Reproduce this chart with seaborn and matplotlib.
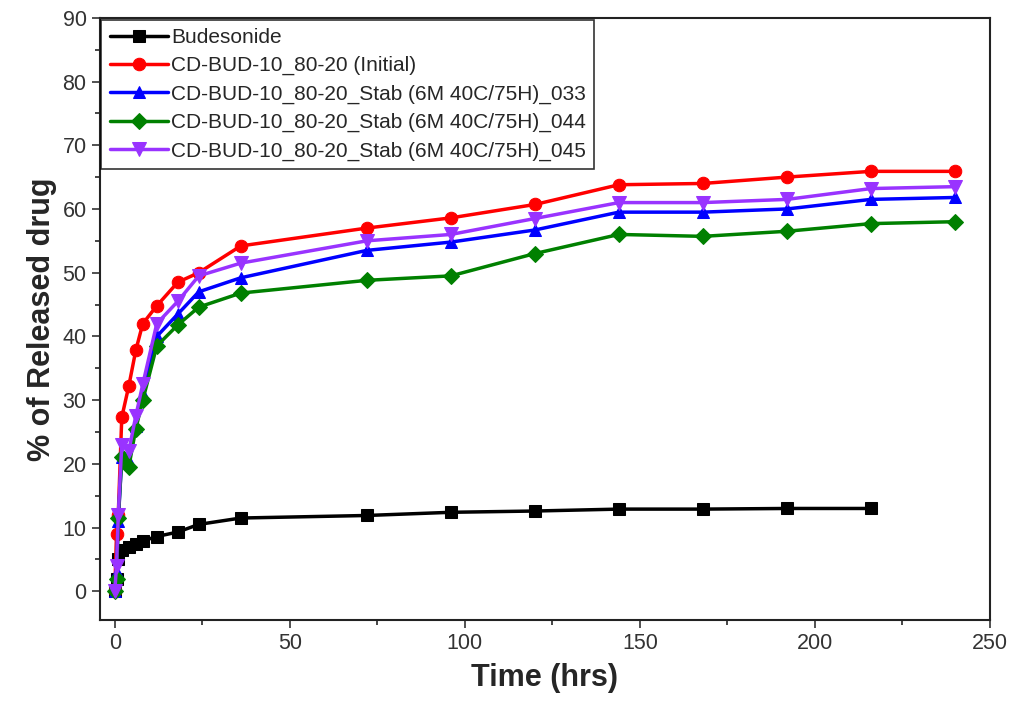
import matplotlib
matplotlib.use("Agg")
import matplotlib.pyplot as plt
import seaborn as sns
import pandas as pd
from matplotlib.ticker import MultipleLocator

time_all = [0, 0.5, 1, 2, 4, 6, 8, 12, 18, 24, 36, 72, 96, 120, 144, 168, 192, 216, 240]
time_bud = time_all[:-1]

budesonide = [0, 2, 5, 6.5, 7.0, 7.5, 7.9, 8.6, 9.3, 10.5, 11.5, 11.9, 12.4, 12.6, 12.9, 12.9, 13.0, 13.0]
initial = [0, 9, 12, 27.3, 32.2, 37.8, 42.0, 44.8, 48.5, 50.0, 54.2, 57.0, 58.6, 60.7, 63.8, 64.0, 65.0, 65.9, 65.9]
stab_033 = [0, 3, 11, 21.0, 20.5, 26.0, 31.0, 40.0, 43.5, 47.0, 49.2, 53.5, 54.8, 56.7, 59.5, 59.5, 60.0, 61.5, 61.8]
stab_044 = [0, 2, 11.5, 21.0, 19.5, 25.5, 30.0, 38.5, 41.8, 44.6, 46.8, 48.8, 49.5, 53.0, 56.0, 55.7, 56.5, 57.7, 58.0]
stab_045 = [0, 4, 12, 23.0, 22.0, 27.5, 32.5, 42.0, 45.5, 49.5, 51.5, 55.0, 56.0, 58.5, 61.0, 61.0, 61.5, 63.2, 63.5]

labels = ["Budesonide", "CD-BUD-10_80-20 (Initial)",
          "CD-BUD-10_80-20_Stab (6M 40C/75H)_033",
          "CD-BUD-10_80-20_Stab (6M 40C/75H)_044",
          "CD-BUD-10_80-20_Stab (6M 40C/75H)_045"]
series = [budesonide, initial, stab_033, stab_044, stab_045]
times = [time_bud, time_all, time_all, time_all, time_all]
colors = ["#000000", "#ff0000", "#0000ff", "#008000", "#9933ff"]
markers = ["s", "o", "^", "D", "v"]
msizes = [8, 9, 9, 8, 10]

rows = []
for lab, t, v in zip(labels, times, series):
    for ti, vi in zip(t, v):
        rows.append({"Time": ti, "Release": vi, "Series": lab})
df = pd.DataFrame(rows)

sns.set_style("ticks")
plt.rcParams["font.family"] = ["Liberation Sans", "DejaVu Sans"]

fig = plt.figure(figsize=(10.28, 7.11), dpi=100)
ax = fig.add_axes([0.097, 0.128, 0.866, 0.847])

for lab, c, m, ms in zip(labels, colors, markers, msizes):
    sub = df[df["Series"] == lab]
    sns.lineplot(data=sub, x="Time", y="Release", ax=ax, color=c, marker=m,
                 markersize=ms, markeredgecolor=c, linewidth=2.5, label=lab,
                 estimator=None, sort=True)

ax.set_xlim(-4.3, 250)
ax.set_ylim(-4.5, 90)
ax.xaxis.set_major_locator(MultipleLocator(50))
ax.xaxis.set_minor_locator(MultipleLocator(25))
ax.yaxis.set_major_locator(MultipleLocator(10))
ax.yaxis.set_minor_locator(MultipleLocator(5))
ax.tick_params(axis="both", which="major", direction="out", length=6, width=1.2,
               labelsize=15.5, colors="#333333", labelcolor="#333333")
ax.tick_params(axis="both", which="minor", direction="out", length=3.5, width=1.2)
for s in ax.spines.values():
    s.set_linewidth(1.5)
    s.set_color("#222222")
ax.set_xlabel("Time (hrs)", fontsize=22, fontweight="bold", labelpad=6)
ax.set_ylabel("% of Released drug", fontsize=22, fontweight="bold", labelpad=4)

leg = ax.legend(loc="upper left", bbox_to_anchor=(0.002, 0.997), fontsize=15,
                frameon=True, fancybox=False, edgecolor="black", borderaxespad=0.0,
                handlelength=2.8, handletextpad=0.15, labelspacing=0.44, borderpad=0.4)
leg.get_frame().set_linewidth(1.2)

fig.savefig("out.png", dpi=100)
